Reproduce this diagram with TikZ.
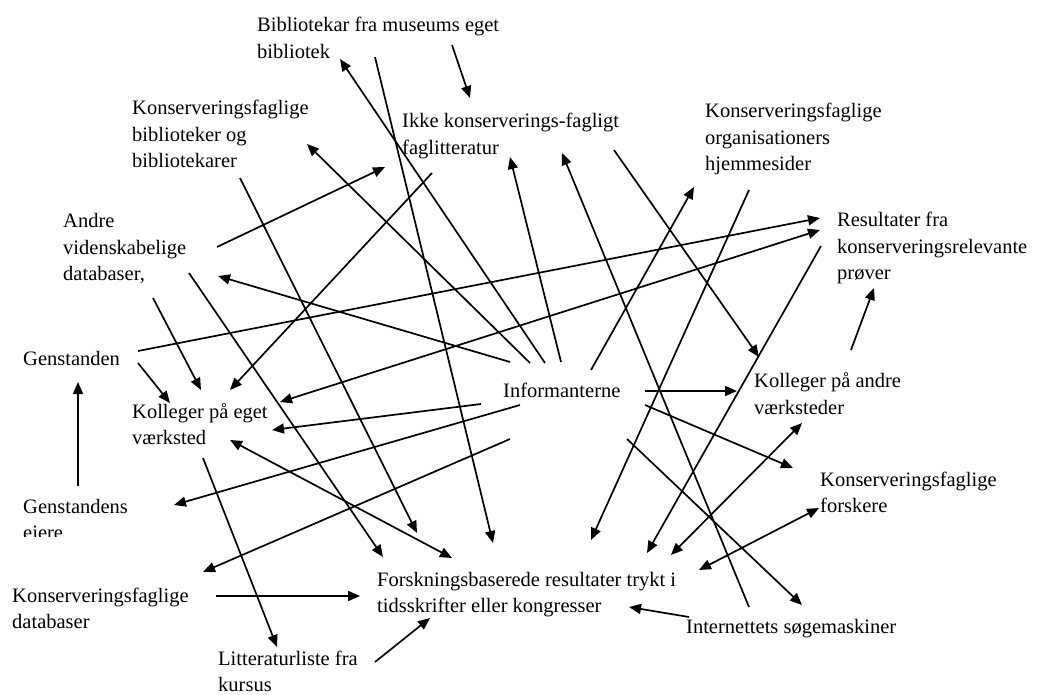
\documentclass[tikz,border=0pt]{standalone}
\usepackage{fontspec}
\setmainfont{Liberation Serif}
\usetikzlibrary{arrows.meta}
\newcommand{\txtlines}[1]{\begin{tabular}[t]{@{}l@{}}#1\end{tabular}}
\begin{document}
\begin{tikzpicture}[x=1pt,y=-1pt,
  lbl/.style={anchor=base west,inner sep=0pt,font=\fontsize{20.5}{26.5}\selectfont},
  arr/.style={line width=1.7pt,-{Triangle[length=12pt,width=10pt]}},
  darr/.style={line width=1.7pt,{Triangle[length=12pt,width=10pt]}-{Triangle[length=12pt,width=10pt]}}]
\useasboundingbox[fill=white] (0,0) rectangle (1037,695);

% text nodes
\node[lbl] (bib) at (257,32) {\txtlines{Bibliotekar fra museums eget\\bibliotek}};
\node[lbl] (kbib) at (132,115) {\txtlines{Konserveringsfaglige\\biblioteker og\\bibliotekarer}};
\node[lbl] (ikke) at (402,128) {\txtlines{Ikke konserverings-fagligt\\faglitteratur}};
\node[lbl] (org) at (705,118) {\txtlines{Konserveringsfaglige\\organisationers\\hjemmesider}};
\node[lbl] (andre) at (63,228) {\txtlines{Andre\\videnskabelige\\databaser,}};
\node[lbl] (res) at (837,227) {\txtlines{Resultater fra\\konserveringsrelevante\\prøver}};
\node[lbl] (gen) at (23,366) {Genstanden};
\node[lbl] (keget) at (132,418) {\txtlines{Kolleger på eget\\værksted}};
\node[lbl] (inf) at (503,397) {Informanterne};
\node[lbl] (kandre) at (754,388) {\txtlines{Kolleger på andre\\værksteder}};
\begin{scope}
\clip (0,480) rectangle (220,536.5);
\node[lbl] (geneier) at (23,513) {\txtlines{Genstandens\\ejere}};
\end{scope}
\node[lbl] (forsk) at (820,486) {\txtlines{Konserveringsfaglige\\forskere}};
\node[lbl] (kdb) at (12,602) {\txtlines{Konserveringsfaglige\\databaser}};
\node[lbl] (fb) at (377,586) {\txtlines{Forskningsbaserede resultater trykt i\\tidsskrifter eller kongresser}};
\node[lbl] (intern) at (686,633) {Internettets søgemaskiner};
\node[lbl] (litt) at (218,665) {\txtlines{Litteraturliste fra\\kursus}};

% connector end points
\coordinate (a1s) at (375,57);  \coordinate (a1e) at (493,543);
\coordinate (a2s) at (545,363); \coordinate (a2e) at (340,59);
\coordinate (a3s) at (452,45);  \coordinate (a3e) at (470,98);
\coordinate (a4s) at (530,363); \coordinate (a4e) at (307,144);
\coordinate (a5s) at (217,247); \coordinate (a5e) at (385,167);
\coordinate (a6s) at (432,173); \coordinate (a6e) at (230,390);
\coordinate (a7s) at (240,178); \coordinate (a7e) at (417,533);
\coordinate (a8s) at (510,362); \coordinate (a8e) at (218,276);
\coordinate (a9s) at (189,273); \coordinate (a9e) at (383,557);
\coordinate (a10s) at (153,298); \coordinate (a10e) at (201,390);
\coordinate (a11s) at (138,351); \coordinate (a11e) at (820,218);
\coordinate (a12s) at (280,402); \coordinate (a12e) at (820,230);
\coordinate (a13s) at (138,363); \coordinate (a13e) at (170,403);
\coordinate (a14s) at (78,486);  \coordinate (a14e) at (78,382);
\coordinate (a15s) at (481,404); \coordinate (a15e) at (272,430);
\coordinate (a16s) at (520,405); \coordinate (a16e) at (174,505);
\coordinate (a17s) at (510,439); \coordinate (a17e) at (203,572);
\coordinate (a18s) at (230,440); \coordinate (a18e) at (452,558);
\coordinate (a19s) at (203,458); \coordinate (a19e) at (277,647);
\coordinate (a20s) at (216,596); \coordinate (a20e) at (360,596);
\coordinate (a21s) at (375,662); \coordinate (a21e) at (430,618);
\coordinate (a22s) at (749,607); \coordinate (a22e) at (562,153);
\coordinate (a23s) at (561,362); \coordinate (a23e) at (510,157);
\coordinate (a24s) at (614,150); \coordinate (a24e) at (759,357);
\coordinate (a25s) at (591,370); \coordinate (a25e) at (694,187);
\coordinate (a26s) at (749,190); \coordinate (a26e) at (591,540);
\coordinate (a27s) at (821,246); \coordinate (a27e) at (647,553);
\coordinate (a28s) at (851,350); \coordinate (a28e) at (874,288);
\coordinate (a29s) at (645,391); \coordinate (a29e) at (737,391);
\coordinate (a30s) at (645,405); \coordinate (a30e) at (793,468);
\coordinate (a31s) at (671,555); \coordinate (a31e) at (802,423);
\coordinate (a32s) at (699,570); \coordinate (a32e) at (819,508);
\coordinate (a33s) at (627,439); \coordinate (a33e) at (802,605);
\coordinate (a34s) at (689,617); \coordinate (a34e) at (629,607);

% connectors
\foreach \i in {1,2,...,11,13,14,15,16,17,19,20,21,22,23,24,25,26,27,28,29,30,33,34}
  \draw[arr] (a\i s) -- (a\i e);
\foreach \i in {12,18,31,32}
  \draw[darr] (a\i s) -- (a\i e);
\end{tikzpicture}
\end{document}
